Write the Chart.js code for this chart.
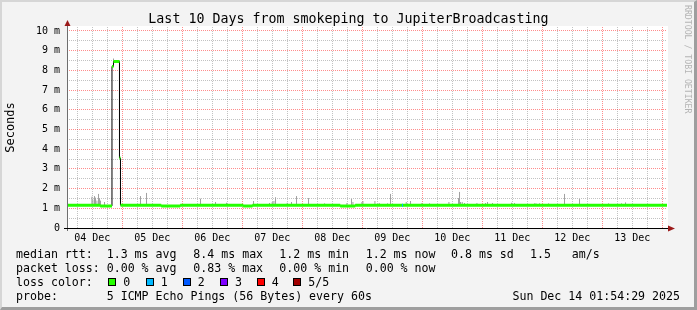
<!DOCTYPE html>
<html><head><meta charset="utf-8">
<script src="https://cdn.jsdelivr.net/npm/chart.js@4/dist/chart.umd.min.js"></script>
<style>
html,body{margin:0;padding:0;}
body{width:697px;height:310px;background:#f3f3f3;position:relative;overflow:hidden;font-family:'DejaVu Sans Mono',monospace;color:#000;}
#frame{position:absolute;left:0;top:0;width:697px;height:310px;box-sizing:border-box;border-top:2px solid #d6d6d6;border-left:2px solid #d6d6d6;border-right:3px solid #9e9e9e;border-bottom:3px solid #9e9e9e;pointer-events:none;}
canvas{position:absolute;left:0;top:0;}
.t{position:absolute;white-space:pre;font-size:11.6px;line-height:14px;height:14px;}
#title{position:absolute;left:0;width:697px;text-align:center;top:11px;font-size:13.3px;line-height:16px;white-space:pre;}
#credit{position:absolute;left:683px;top:5px;writing-mode:vertical-rl;font-size:8.2px;color:#b4b4b4;white-space:pre;line-height:9px;}
.box{position:absolute;width:8px;height:8px;box-sizing:border-box;border:1px solid #000;}
</style>
</head><body>
<canvas id="c" width="697" height="250"></canvas>
<div id="title"></div>
<div id="credit"></div>
<div id="legend"></div>
<div id="frame"></div>
<script>
// ---- data ----
const chartTitle = 'Last 10 Days from smokeping to JupiterBroadcasting';
const creditText = 'RRDTOOL / TOBI OETIKER';
const yAxisTitle = 'Seconds';
// hours counted from 04 Dec 00:00
const startHour = 1.908;
const endHour = 241.908;
const dayLabels = ['04 Dec','05 Dec','06 Dec','07 Dec','08 Dec','09 Dec','10 Dec','11 Dec','12 Dec','13 Dec'];
const yMaxMs = 10.2;
// median rtt (ms) as steps: value holds from the given hour until the next one
const medianStartHours = [1.908, 15.2, 19.9, 20.5, 22.9, 23.3, 39.6, 47.2, 72.4, 76.1, 111.2, 117.2];
const medianMs =         [1.16,  1.12, 8.2,  8.45, 3.55, 1.16, 1.12, 1.16, 1.12, 1.16, 1.12,  1.16];
// smoke (max rtt spikes, ms)
const smokeHours = [11.88,12.28,12.92,13.32,13.88,14.52,14.92,15.32,16.92,20.52,31.32,33.72,55.32,61.32,65.72,
  76.52,82.92,84.0,84.68,85.32,90.0,91.72,93.72,98.52,104.92,113.88,115.72,116.28,119.88,120.28,125.08,126.8,
  130.12,131.32,137.6,139.32,143.88,146.92,154.68,158.52,158.92,159.32,160.0,160.92,165.88,169.32,170.12,172.12,
  179.72,180.92,188.92,189.48,190.92,194.52,200.92,206.92,218.52,223.72,225.32,239.2];
const smokeMaxMs = [1.59,1.44,1.62,1.54,1.39,1.73,1.51,1.39,1.32,8.6,1.62,1.78,1.49,1.32,1.28,
  1.37,1.27,1.32,1.37,1.56,1.28,1.32,1.62,1.52,1.25,1.27,1.47,1.32,1.32,1.37,1.37,1.27,
  1.25,1.73,1.32,1.37,1.27,1.25,1.32,1.52,1.83,1.32,1.32,1.27,1.27,1.27,1.32,1.27,
  1.28,1.27,1.25,1.25,1.25,1.25,1.73,1.47,1.25,1.25,1.3,1.22];
// packet loss events (lost pings out of 5)
const lossHours = [136.1];
const lossPings = [1];
const lossColors = ['#26ff00','#00b8ff','#0059ff','#7e00ff','#ff0000','#a10000'];
const lossLabels = ['0','1','2','3','4','5/5'];
// legend texts
const legendRows = [
  ['median rtt:', '1.3 ms avg', '8.4 ms max', '1.2 ms min', '1.2 ms now', '0.8 ms sd', '1.5', 'am/s'],
  ['packet loss:', '0.00 % avg', '0.83 % max', '0.00 % min', '0.00 % now'],
  ['loss color:'],
  ['probe:', '5 ICMP Echo Pings (56 Bytes) every 60s']
];
const dateText = 'Sun Dec 14 01:54:29 2025';

// ---- text ----
document.getElementById('title').textContent = chartTitle;
document.getElementById('credit').textContent = creditText;
const lg = document.getElementById('legend');
const colX = [16, 106.7, 193.3, 279.3, 365.7, 451, 530, 571.7];
const rowTop = [247, 261, 275, 289];
function addText(txt, x, y, extra) {
  const d = document.createElement('div');
  d.className = 't'; d.textContent = txt;
  d.style.left = x + 'px'; d.style.top = y + 'px';
  if (extra) Object.assign(d.style, extra);
  lg.appendChild(d); return d;
}
legendRows.forEach((row, r) => row.forEach((txt, i) => addText(txt, colX[i], rowTop[r])));
const boxX = [108.3, 145.7, 182.7, 220, 256.7, 293.3];
lossLabels.forEach((lab, i) => {
  const b = document.createElement('div');
  b.className = 'box'; b.style.left = boxX[i] + 'px'; b.style.top = '278px';
  b.style.background = lossColors[i]; lg.appendChild(b);
  addText(lab, boxX[i] + 15, rowTop[2]);
});
addText(dateText, 0, rowTop[3], {left: 'auto', right: '17px'});

// ---- chart data built from arrays ----
function medianAt(h) {
  let v = medianMs[0];
  for (let i = 0; i < medianStartHours.length; i++) if (medianStartHours[i] <= h) v = medianMs[i];
  return v;
}
const blackStep = medianStartHours.map((h, i) => ({x: h, y: medianMs[i]}));
blackStep.push({x: endHour, y: medianMs[medianMs.length - 1]});
const greenSegs = [];
medianStartHours.forEach((h, i) => {
  const h2 = i + 1 < medianStartHours.length ? medianStartHours[i + 1] : endHour;
  greenSegs.push({x: h, y: medianMs[i]}, {x: h2, y: medianMs[i]}, {x: h2, y: null});
});
const smokeSegs = [];
smokeHours.forEach((h, i) => {
  smokeSegs.push({x: h, y: medianAt(h)}, {x: h, y: smokeMaxMs[i]}, {x: h, y: null});
});
const lossSegs = [];
lossHours.forEach((h, i) => {
  lossSegs.push({x: h - 0.2, y: medianAt(h)}, {x: h + 0.2, y: medianAt(h)}, {x: h + 0.2, y: null});
});

const xGrid = [];
for (let h = Math.ceil(startHour / 6) * 6; h <= endHour; h += 6) xGrid.push(h);
const yGrid = [];
for (let v = 0; v <= 10; v += 0.5) yGrid.push(v);

const MAJOR = 'rgba(255,0,0,0.45)';
const MINOR = 'rgba(120,120,120,0.45)';

const frame = {
  id: 'frame',
  beforeDraw(chart) {
    const {ctx, chartArea: a} = chart;
    ctx.save(); ctx.fillStyle = '#ffffff';
    ctx.fillRect(a.left, a.top - 1, a.right - a.left + 1, a.bottom - a.top + 1);
    ctx.restore();
  },
  afterDatasetsDraw(chart) {
    const {ctx, chartArea: a} = chart;
    ctx.save();
    ctx.lineWidth = 1;
    ctx.strokeStyle = '#6e6e6e';
    ctx.beginPath(); ctx.moveTo(a.left + 0.5, a.bottom + 3); ctx.lineTo(a.left + 0.5, a.top - 2); ctx.stroke();
    ctx.strokeStyle = '#000000';
    ctx.beginPath(); ctx.moveTo(a.left - 3, a.bottom + 0.5); ctx.lineTo(a.right + 2, a.bottom + 0.5); ctx.stroke();
    ctx.fillStyle = '#9b1a1a';
    ctx.beginPath(); ctx.moveTo(a.left + 0.5, a.top - 7); ctx.lineTo(a.left - 2.5, a.top - 1); ctx.lineTo(a.left + 3.5, a.top - 1); ctx.closePath(); ctx.fill();
    ctx.beginPath(); ctx.moveTo(a.right + 8, a.bottom + 0.5); ctx.lineTo(a.right + 1, a.bottom - 2.5); ctx.lineTo(a.right + 1, a.bottom + 3.5); ctx.closePath(); ctx.fill();
    ctx.restore();
  }
};

const axisFont = {family: 'DejaVu Sans Mono', size: 10};
new Chart(document.getElementById('c'), {
  type: 'line',
  data: {
    datasets: [
      {data: lossSegs, borderColor: lossColors[1], borderWidth: 3, pointRadius: 0, spanGaps: false, order: 0, borderCapStyle: 'butt'},
      {data: greenSegs, borderColor: lossColors[0], borderWidth: 3, pointRadius: 0, spanGaps: false, order: 1, borderCapStyle: 'butt'},
      {data: blackStep, borderColor: '#000000', borderWidth: 1, pointRadius: 0, stepped: true, order: 2},
      {data: smokeSegs, borderColor: '#a0a0a0', borderWidth: 1, pointRadius: 0, spanGaps: false, order: 3}
    ]
  },
  options: {
    responsive: false, animation: false, devicePixelRatio: 1,
    layout: {padding: {left: 0, right: 30, top: 27, bottom: 0}},
    plugins: {legend: {display: false}, tooltip: {enabled: false}},
    elements: {line: {tension: 0}},
    scales: {
      x: {
        type: 'linear', min: startHour, max: endHour,
        afterFit(s) { s.height = 22; },
        afterBuildTicks(s) { s.ticks = xGrid.map(v => ({value: v})); },
        ticks: {
          autoSkip: false, maxRotation: 0, minRotation: 0, padding: 4, font: axisFont, color: '#000',
          callback(v) { return v % 24 === 12 ? dayLabels[(v - 12) / 24] : ''; }
        },
        grid: {drawTicks: false, lineWidth: 1, color(c) { return c.tick && c.tick.value % 24 === 0 ? MAJOR : MINOR; }},
        border: {display: false, dash: [1, 1]}
      },
      y: {
        type: 'linear', min: 0, max: yMaxMs,
        afterFit(s) { s.width = 67; },
        afterBuildTicks(s) { s.ticks = yGrid.map(v => ({value: v})); },
        ticks: {
          autoSkip: false, padding: 7, font: axisFont, color: '#000',
          callback(v) { return v === 0 ? '0' : (v % 1 === 0 ? v + ' m' : ''); }
        },
        grid: {drawTicks: false, lineWidth: 1, color(c) { return c.tick && c.tick.value % 1 === 0 ? MAJOR : MINOR; }},
        border: {display: false, dash: [1, 1]},
        title: {display: true, text: yAxisTitle, color: '#000', font: {family: 'DejaVu Sans Mono', size: 12}, padding: {top: 4, bottom: 0}}
      }
    }
  },
  plugins: [frame]
});
</script>
</body></html>
